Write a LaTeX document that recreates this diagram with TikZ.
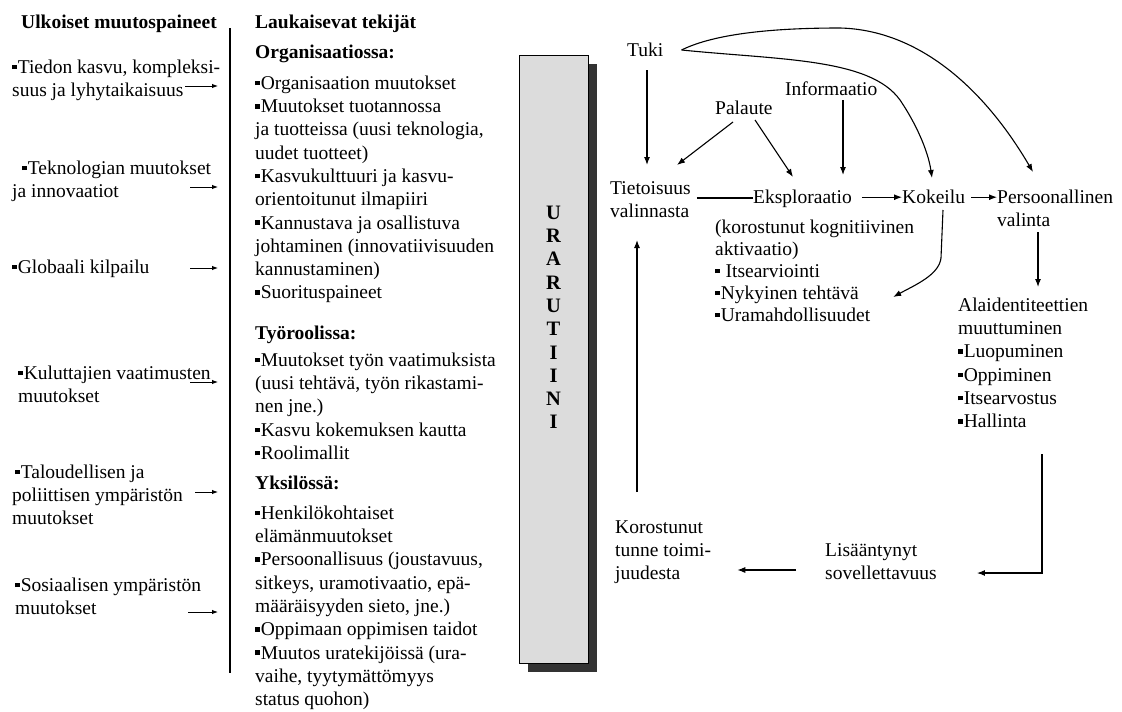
\documentclass[tikz,border=0pt]{standalone}
\usepackage{fontspec}
\setmainfont{Liberation Serif}
\usetikzlibrary{arrows.meta}
\definecolor{boxgray}{HTML}{DCDCDC}
\definecolor{shadowgray}{HTML}{333333}
\newcommand\txtsize{\fontsize{19.5}{23.3}\selectfont}
\newcommand\detsize{\fontsize{19.5}{22}\selectfont}
\newcommand\hdsize{\fontsize{19.5}{23.3}\selectfont\bfseries}
\newcommand\lettersize{\fontsize{20.5}{23.3}\selectfont\bfseries}
\newcommand\bx{\rule[4pt]{4.6pt}{4.6pt}\hspace{1pt}}
\begin{document}
\begin{tikzpicture}[x=1pt,y=-1pt,
  tx/.style={inner sep=0pt, anchor=north west, align=left, font=\txtsize},
  hd/.style={tx, font=\hdsize},
  conn/.style={line width=1.1pt},
  arr/.style={conn, -{Latex[length=8pt,width=6pt]}},
  sarr/.style={line width=1pt, -{Latex[length=6pt,width=4.5pt]}}]
\fill[white] (0,0) rectangle (1122,712);
\useasboundingbox (0,0) rectangle (1122,712);

% ---- column headers and divider
\node[hd] (hulk) at (21,11.7) {\strut Ulkoiset muutospaineet};
\node[hd] (hlau) at (255,11.7) {\strut Laukaisevat tekijät};
\coordinate (divtop) at (230,28);
\coordinate (divbot) at (230,673);
\draw[line width=1.1pt] (divtop) -- (divbot);

% ---- external pressures
\node[tx] (l1) at (12,56.7) {\strut\bx Tiedon kasvu, kompleksi-\\suus ja lyhytaikaisuus};
\node[tx] (l2) at (12,157.7) {\strut\hspace*{10pt}\bx Teknologian muutokset\\ja innovaatiot};
\node[tx] (l3) at (12,256.7) {\strut\bx Globaali kilpailu};
\node[tx] (l4) at (18,362.7) {\strut\bx Kuluttajien vaatimusten\\muutokset};
\node[tx] (l5) at (12,461.7) {\strut\hspace*{3pt}\bx Taloudellisen ja\\poliittisen ympäristön\\muutokset};
\node[tx] (l6) at (15,574.7) {\strut\bx Sosiaalisen ympäristön\\muutokset};

\coordinate (a1s) at (185,86);  \coordinate (a1e) at (218,86);
\coordinate (a2s) at (190,187); \coordinate (a2e) at (218,187);
\coordinate (a3s) at (190,268); \coordinate (a3e) at (218,268);
\coordinate (a4s) at (190,382); \coordinate (a4e) at (218,382);
\coordinate (a5s) at (195,492); \coordinate (a5e) at (218,492);
\coordinate (a6s) at (188,612); \coordinate (a6e) at (218,612);
\foreach \i in {1,...,6} \draw[sarr] (a\i s) -- (a\i e);

% ---- triggering factors
\node[hd] (horg) at (255,41.7) {\strut Organisaatiossa:};
\node[tx] (morg) at (255,72.7) {\strut\bx Organisaation muutokset\\
  \bx Muutokset tuotannossa\\
  ja tuotteissa (uusi teknologia,\\
  uudet tuotteet)\\
  \bx Kasvukulttuuri ja kasvu-\\
  orientoitunut ilmapiiri\\
  \bx Kannustava ja osallistuva\\
  johtaminen (innovatiivisuuden\\
  kannustaminen)\\
  \bx Suorituspaineet};
\node[hd] (htyo) at (255,322.7) {\strut Työroolissa:};
\node[tx] (mtyo) at (255,349.7) {\strut\bx Muutokset työn vaatimuksista\\
  (uusi tehtävä, työn rikastami-\\
  nen jne.)\\
  \bx Kasvu kokemuksen kautta\\
  \bx Roolimallit};
\node[hd] (hyks) at (255,472.7) {\strut Yksilössä:};
\node[tx] (myks) at (255,502.7) {\strut\bx Henkilökohtaiset\\
  elämänmuutokset\\
  \bx Persoonallisuus (joustavuus,\\
  sitkeys, uramotivaatio, epä-\\
  määräisyyden sieto, jne.)\\
  \bx Oppimaan oppimisen taidot\\
  \bx Muutos uratekijöissä (ura-\\
  vaihe, tyytymättömyys\\
  status quohon)};

% ---- career routine bar with shadow
\fill[shadowgray] (528,64) rectangle (597,672);
\node[draw, line width=1.2pt, fill=boxgray, anchor=north west, inner sep=0pt,
      minimum width=69pt, minimum height=608pt] (rutiini) at (519,55) {};
\node[inner sep=0pt, anchor=north, align=center, font=\lettersize] (rutxt) at (553.5,202.7)
  {\strut U\\R\\A\\R\\U\\T\\I\\I\\N\\I};

% ---- transition cycle
\node[tx] (tuki) at (627,39.7) {\strut Tuki};
\node[tx] (info) at (785,78.7) {\strut Informaatio};
\node[tx] (palaute) at (715,97.7) {\strut Palaute};
\node[tx] (tiet) at (610,177.7) {\strut Tietoisuus\\valinnasta};
\node[tx] (eks) at (753,186.7) {\strut Eksploraatio};
\node[tx] (kok) at (902,186.7) {\strut Kokeilu};
\node[tx] (pers) at (997,186.7) {\strut Persoonallinen\\valinta};
\node[tx, font=\detsize] (det) at (715,217.6) {\strut(korostunut kognitiivinen\\
  aktivaatio)\\
  \bx\ Itsearviointi\\
  \bx Nykyinen tehtävä\\
  \bx Uramahdollisuudet};
\node[tx] (alaid) at (958,294.7) {\strut Alaidentiteettien\\
  muuttuminen\\
  \bx Luopuminen\\
  \bx Oppiminen\\
  \bx Itsearvostus\\
  \bx Hallinta};
\node[tx] (lisaa) at (825,539.7) {\strut Lisääntynyt\\sovellettavuus};
\node[tx] (koros) at (615,516.7) {\strut Korostunut\\tunne toimi-\\juudesta};

% straight connectors
\draw[arr] ([shift={(20,30.3)}]tuki.north west) -- ([shift={(37,-12.7)}]tiet.north west);
\draw[arr] ([shift={(18,24.3)}]palaute.north west) -- ([shift={(67,-12.7)}]tiet.north west);
\draw[arr] ([shift={(40,22.3)}]palaute.north west) -- ([shift={(40,-9.7)}]eks.north west);
\draw[arr] ([shift={(58,21.3)}]info.north west) -- ([shift={(90,-11.7)}]eks.north west);
\draw[conn] ([shift={(6,20.3)}]tiet.north east) -- ([shift={(0,11.3)}]eks.north west);
\draw[arr] ([shift={(10,10.5)}]eks.north east) -- ([shift={(0,10.5)}]kok.north west);
\draw[arr] ([shift={(6,10.5)}]kok.north east) -- ([shift={(0,10.5)}]pers.north west);
\draw[arr] ([shift={(41,45.3)}]pers.north west) -- ([shift={(80,-7.7)}]alaid.north west);
\draw[arr] ([shift={(84,159.3)}]alaid.north west) |- ([shift={(40,33.3)}]lisaa.north east);
\draw[arr] ([shift={(-29,30.3)}]lisaa.north west) -- ([shift={(26,53.3)}]koros.north east);
\draw[arr] ([shift={(22,-24.7)}]koros.north west) -- ([shift={(27,62.3)}]tiet.north west);

% curved connectors
\draw[arr] ([shift={(41,23.3)}]kok.north west) -- (941,258)
  .. controls (939,275) and (915,285) .. ([shift={(-21,79.4)}]det.north east);
\draw[arr] ([shift={(18,10.3)}]tuki.north east) .. controls (710,36) and (760,28) .. (840,28)
  .. controls (920,30) and (985,90) .. ([shift={(36,-14.7)}]pers.north west);
\draw[arr] ([shift={(18,10.3)}]tuki.north east) .. controls (780,60) and (870,58) .. (900,100)
  .. controls (915,122) and (928,150) .. ([shift={(30,-8.7)}]kok.north west);
\end{tikzpicture}
\end{document}
